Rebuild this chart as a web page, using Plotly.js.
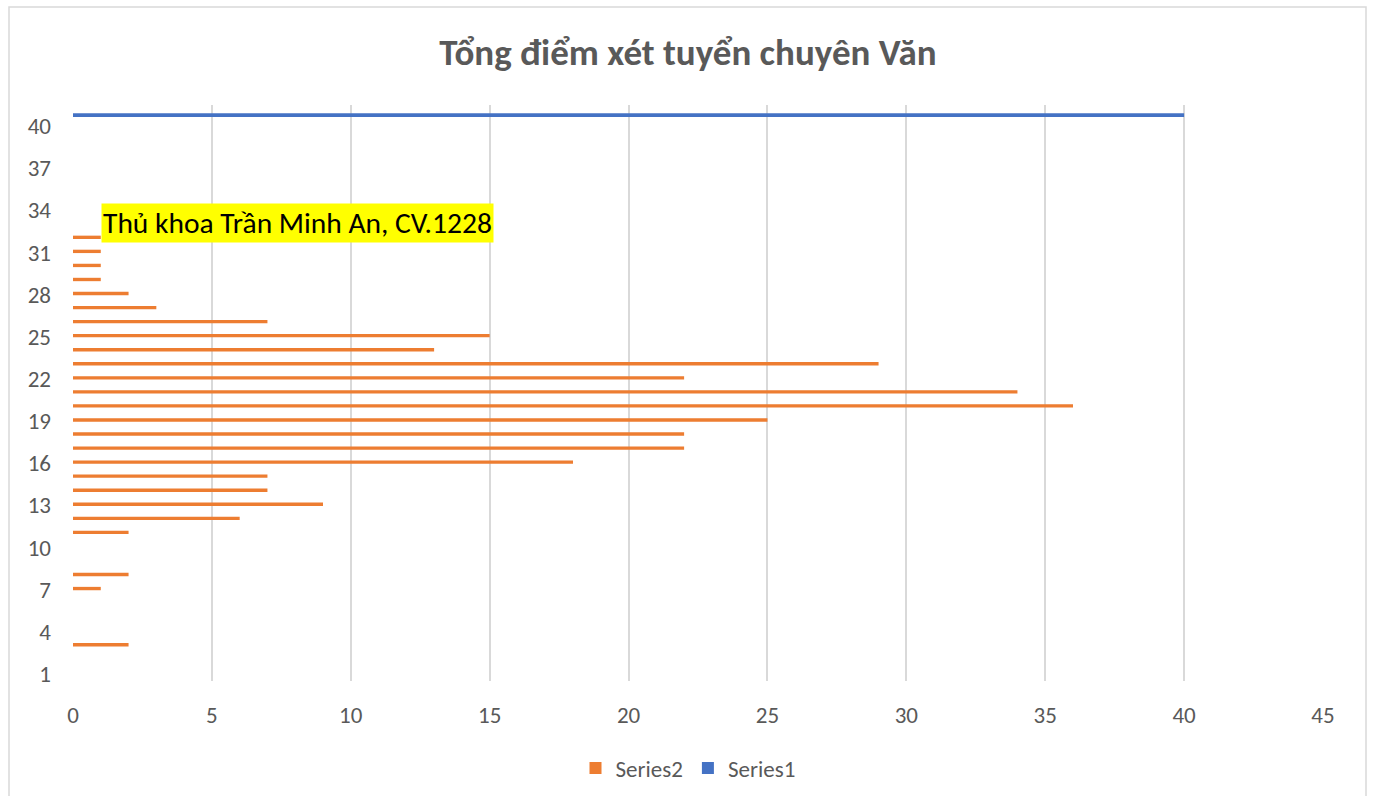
<!DOCTYPE html>
<html>
<head>
<meta charset="utf-8">
<script src="https://cdn.plot.ly/plotly-3.0.1.min.js"></script>
<style>
html,body{margin:0;padding:0;background:#fff;}
#chart{width:1376px;height:796px;}
</style>
</head>
<body>
<div id="chart"></div>
<script>
// Category axis (total score) and counts
const categories2 = [3, 7, 8, 11, 12, 13, 14, 15, 16, 17, 18, 19, 20, 21, 22, 23, 24, 25, 26, 27, 28, 29, 30, 31, 32];
const series2Values = [2, 1, 2, 2, 6, 9, 7, 7, 18, 22, 22, 25, 36, 34, 22, 29, 13, 15, 7, 3, 2, 1, 1, 1, 1];
const categories1 = [41];
const series1Values = [40];
const yTickVals = [1, 4, 7, 10, 13, 16, 19, 22, 25, 28, 31, 34, 37, 40];
const xTickVals = [0, 5, 10, 15, 20, 25, 30, 35, 40, 45];
const titleText = "Tổng điểm xét tuyển chuyên Văn";
const noteText = "Thủ khoa Trần Minh An, CV.1228";

const FONT = "Carlito, Calibri, 'Open Sans', sans-serif";
const GREY = "#595959";

const traces = [
  {type: 'bar', orientation: 'h', name: 'Series1', x: series1Values, y: categories1,
   width: 0.28, offset: -0.36, marker: {color: '#4472C4', line: {width: 0}}, hoverinfo: 'x+y'},
  {type: 'bar', orientation: 'h', name: 'Series2', x: series2Values, y: categories2,
   width: 0.24, offset: -0.04, marker: {color: '#ED7D31', line: {width: 0}}, hoverinfo: 'x+y'}
];

const layout = {
  width: 1376, height: 796,
  paper_bgcolor: '#ffffff', plot_bgcolor: '#ffffff',
  margin: {l: 73, r: 53, t: 105, b: 115, autoexpand: false},
  barmode: 'overlay',
  title: {text: '<b>' + titleText + '</b>', x: 0.5, xref: 'container', xanchor: 'center',
          y: 1 - 52/796, yanchor: 'middle', font: {family: FONT, size: 37, color: GREY}},
  xaxis: {range: [0, 45], tickvals: xTickVals, showgrid: true, gridcolor: '#d9d9d9', gridwidth: 2,
          zeroline: false, showline: false, ticks: '', ticklen: 0, ticklabelstandoff: 18,
          tickfont: {family: FONT, size: 23, color: GREY}, fixedrange: true, automargin: false},
  yaxis: {range: [0.5, 41.5], tickvals: yTickVals, showgrid: false, zeroline: false,
          showline: false, ticks: '', ticklabelstandoff: 21,
          tickfont: {family: FONT, size: 23, color: GREY}, fixedrange: true, automargin: false},
  showlegend: true,
  legend: {orientation: 'h', x: 0.5 - 10/1250, xanchor: 'center', y: (681 - 768) / 576, yanchor: 'middle',
           traceorder: 'reversed', font: {family: FONT, size: 23, color: GREY}, itemwidth: 30},
  annotations: [{
    x: 1, y: 32, xref: 'x', yref: 'y', xanchor: 'left', yanchor: 'bottom', yshift: -5,
    text: noteText, showarrow: false, bgcolor: '#FFFF00', borderpad: 1,
    font: {family: FONT, size: 29.5, color: '#000000'}
  }],
  shapes: [{
    type: 'rect', xref: 'paper', yref: 'paper',
    x0: (9 - 73) / 1250, x1: (1366 - 73) / 1250,
    y0: (681 - 810) / 576, y1: (681 - 7) / 576,
    line: {color: '#d9d9d9', width: 1.5}, fillcolor: 'rgba(0,0,0,0)', layer: 'below'
  }]
};

Plotly.newPlot('chart', traces, layout, {displayModeBar: false, staticPlot: true});
</script>
</body>
</html>
